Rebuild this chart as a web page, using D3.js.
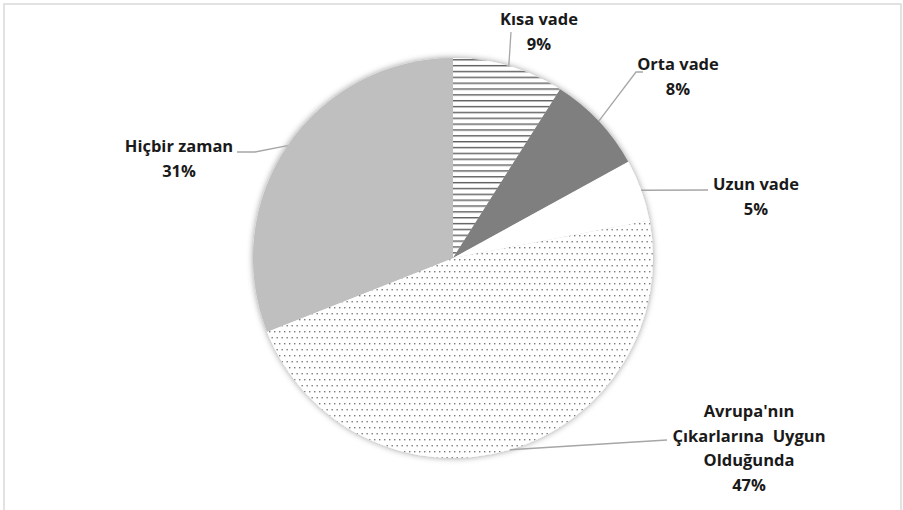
<!DOCTYPE html>
<html>
<head>
<meta charset="utf-8">
<script src="https://cdn.jsdelivr.net/npm/d3@7"></script>
<style>
  html, body { margin: 0; padding: 0; background: #fff; }
  svg { display: block; }
  text { font-family: "Open Sans", Lato, sans-serif; font-weight: bold; font-size: 16.5px; fill: #1a1a1a; white-space: pre; }
</style>
</head>
<body>
<svg id="chart" width="903" height="510"></svg>
<script>
// ---- data ----
const categories = ["Kısa vade", "Orta vade", "Uzun vade", "Avrupa'nın Çıkarlarına Uygun Olduğunda", "Hiçbir zaman"];
const values = [9, 8, 5, 47, 31];
const labelLines = [
  ["Kısa vade", "9%"],
  ["Orta vade", "8%"],
  ["Uzun vade", "5%"],
  ["Avrupa'nın", "Çıkarlarına  Uygun", "Olduğunda", "47%"],
  ["Hiçbir zaman", "31%"]
];

// ---- layout ----
const W = 903, H = 510;
const cx = 453, cy = 258, R = 200;
const fills = ["url(#hlines)", "#7f7f7f", "#ffffff", "url(#dots)", "#bfbfbf"];
const labelPos = [[539, 25], [678, 70], [756, 190], [749, 417], [179, 152]];
const leaderStart = [[[511, 32]], [[643, 72], [636, 72]], [[708, 190]], [[667, 440]], [[237, 152], [255, 152]]];
const anchorAngleDeg = [null, null, null, 163.5, null];

const svg = d3.select("#chart");
const defs = svg.append("defs");

const hp = defs.append("pattern").attr("id", "hlines").attr("patternUnits", "userSpaceOnUse")
  .attr("width", 8).attr("height", 5.85);
hp.append("rect").attr("width", 8).attr("height", 5.85).attr("fill", "#fff");
hp.append("rect").attr("y", 0).attr("width", 8).attr("height", 1.4).attr("fill", "#5e5e5e");

const dp = defs.append("pattern").attr("id", "dots").attr("patternUnits", "userSpaceOnUse")
  .attr("width", 10).attr("height", 12);
dp.append("rect").attr("width", 10).attr("height", 12).attr("fill", "#fff");
[[1, 1], [6, 1], [3.5, 7], [8.5, 7]].forEach(([x, y]) =>
  dp.append("rect").attr("x", x).attr("y", y).attr("width", 1.4).attr("height", 1.4).attr("fill", "#7a7a7a"));

const flt = defs.append("filter").attr("id", "shadow").attr("x", "-10%").attr("y", "-10%").attr("width", "120%").attr("height", "120%");
flt.append("feDropShadow").attr("dx", 0).attr("dy", 0).attr("stdDeviation", 3)
  .attr("flood-color", "#000").attr("flood-opacity", 0.4);

// border
svg.append("rect").attr("x", 4).attr("y", 4).attr("width", 897).attr("height", 530)
  .attr("fill", "none").attr("stroke", "#d9d9d9").attr("stroke-width", 1.5);

const pie = d3.pie().sort(null).value(d => d).startAngle(0).endAngle(2 * Math.PI);
const arcs = pie(values);
const arc = d3.arc().innerRadius(0).outerRadius(R);

const g = svg.append("g").attr("transform", `translate(${cx},${cy})`);
const shadowG = g.append("g").attr("filter", "url(#shadow)");
shadowG.selectAll("path").data(arcs).join("path")
  .attr("d", arc)
  .attr("fill", (d, i) => fills[i]);

// leader lines
arcs.forEach((d, i) => {
  const a = anchorAngleDeg[i] != null ? anchorAngleDeg[i] * Math.PI / 180 : (d.startAngle + d.endAngle) / 2;
  const px = cx + R * Math.sin(a), py = cy - R * Math.cos(a);
  const pts = leaderStart[i].concat([[px, py]]);
  svg.append("path").attr("d", d3.line()(pts))
    .attr("fill", "none").attr("stroke", "#a6a6a6").attr("stroke-width", 1.3);
});

// labels
labelLines.forEach((lines, i) => {
  const t = svg.append("text").attr("text-anchor", "middle");
  lines.forEach((ln, j) => {
    t.append("tspan").attr("x", labelPos[i][0]).attr("y", labelPos[i][1] + j * (i === 3 ? 24.5 : 25)).text(ln);
  });
});
</script>
</body>
</html>
